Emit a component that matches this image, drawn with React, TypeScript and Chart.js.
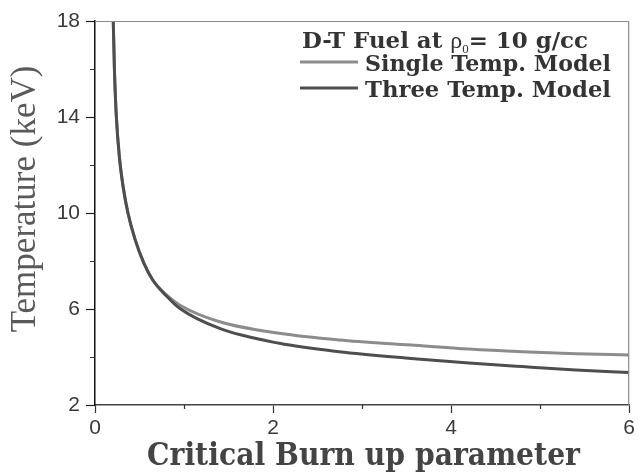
import React, { useEffect, useRef } from "react";
import { Chart, registerables } from "chart.js";

Chart.register(...registerables);

// Critical burn-up parameter (x) and temperature in keV (y)
const singleX = [0.2, 0.205, 0.218, 0.24, 0.275, 0.32, 0.37, 0.45, 0.55, 0.65, 0.8, 0.95, 1.4, 2.07, 2.74, 3.55, 4.2, 4.8, 5.4, 6.0];
const singleT = [19, 18, 16, 14, 12.3, 11, 10, 8.9, 7.9, 7.2, 6.6, 6.17, 5.47, 4.99, 4.71, 4.5, 4.33, 4.22, 4.14, 4.08];
const threeX = [0.2, 0.205, 0.218, 0.24, 0.275, 0.32, 0.37, 0.45, 0.55, 0.65, 0.8, 0.95, 1.4, 2.07, 2.74, 3.55, 4.2, 4.8, 5.4, 6.0];
const threeT = [19, 18, 16, 14, 12.3, 11, 10, 8.9, 7.9, 7.2, 6.55, 6.03, 5.19, 4.57, 4.22, 3.94, 3.75, 3.6, 3.46, 3.35];

const xMajorTicks = [0, 2, 4, 6];
const xMinorTicks = [1, 3, 5];
const yMajorTicks = [2, 6, 10, 14, 18];
const yMinorTicks = [4, 8, 12, 16];

const legendTitle = "D-T Fuel at ";
const legendRho = "ρ";
const legendSub = "0";
const legendTitleRest = "= 10 g/cc";
const singleLabel = "Single Temp. Model";
const threeLabel = "Three Temp. Model";
const xTitle = "Critical Burn up parameter";
const yTitle = "Temperature (keV)";

const SLAB = "'DejaVu Serif', serif";

function drawFitted(ctx: CanvasRenderingContext2D, text: string, x: number, y: number, target: number) {
  const w = ctx.measureText(text).width;
  const s = w > target ? target / w : 1;
  ctx.save();
  ctx.translate(x, y);
  ctx.scale(s, 1);
  ctx.fillText(text, 0, 0);
  ctx.restore();
}

const decorPlugin = {
  id: "decor",
  afterDraw(chart: any) {
    const ctx: CanvasRenderingContext2D = chart.ctx;
    const { left, right, top, bottom } = chart.chartArea;
    const xs = chart.scales.x;
    const ys = chart.scales.y;
    ctx.save();
    // top and right frame
    ctx.strokeStyle = "#8a8a8a";
    ctx.lineWidth = 1.2;
    ctx.beginPath();
    ctx.moveTo(left, top + 0.5);
    ctx.lineTo(right, top + 0.5);
    ctx.moveTo(right - 0.5, top);
    ctx.lineTo(right - 0.5, bottom);
    ctx.stroke();
    // minor ticks
    ctx.strokeStyle = "#333";
    ctx.lineWidth = 1.2;
    ctx.beginPath();
    for (const v of xMinorTicks) {
      const px = Math.round(xs.getPixelForValue(v)) + 0.5;
      ctx.moveTo(px, bottom);
      ctx.lineTo(px, bottom + 4);
    }
    for (const v of yMinorTicks) {
      const py = Math.round(ys.getPixelForValue(v)) + 0.5;
      ctx.moveTo(left, py);
      ctx.lineTo(left - 5, py);
    }
    ctx.stroke();

    // legend
    ctx.fillStyle = "#333";
    ctx.textBaseline = "alphabetic";
    ctx.textAlign = "left";
    const big = `bold 23px ${SLAB}`;
    const rho = "24px 'Liberation Serif', serif";
    const sub = "13px 'Liberation Serif', serif";
    ctx.font = big;
    const w1 = ctx.measureText(legendTitle).width;
    ctx.font = rho;
    const w2 = ctx.measureText(legendRho).width;
    ctx.font = sub;
    const w3 = ctx.measureText(legendSub).width;
    ctx.font = big;
    const w4 = ctx.measureText(legendTitleRest).width;
    const total = w1 + w2 + w3 + w4;
    const s = Math.min(1, 286 / total);
    ctx.save();
    ctx.translate(302, 48);
    ctx.scale(s, 1);
    ctx.font = big;
    ctx.fillText(legendTitle, 0, 0);
    ctx.font = rho;
    ctx.fillText(legendRho, w1, 0);
    ctx.font = sub;
    ctx.fillText(legendSub, w1 + w2, 5);
    ctx.font = big;
    ctx.fillText(legendTitleRest, w1 + w2 + w3, 0);
    ctx.restore();

    const ds = chart.data.datasets;
    const rows = [
      { y: 62, base: 71, ds: ds[0] },
      { y: 88, base: 97, ds: ds[1] },
    ];
    for (const r of rows) {
      ctx.strokeStyle = r.ds.borderColor;
      ctx.lineWidth = 3;
      ctx.beginPath();
      ctx.moveTo(300, r.y);
      ctx.lineTo(358, r.y);
      ctx.stroke();
      ctx.fillStyle = "#333";
      ctx.font = big;
      drawFitted(ctx, r.ds.label, 365, r.base, 246);
    }

    // axis titles
    ctx.fillStyle = "#444";
    ctx.font = `bold 32px ${SLAB}`;
    ctx.textAlign = "left";
    const tw = ctx.measureText(xTitle).width;
    const tt = Math.min(1, 433 / tw);
    ctx.save();
    ctx.translate(147, 465);
    ctx.scale(tt, 1);
    ctx.fillText(xTitle, 0, 0);
    ctx.restore();

    ctx.fillStyle = "#5a5a5a";
    ctx.font = "35px 'Liberation Serif', serif";
    ctx.textAlign = "center";
    ctx.save();
    ctx.translate(35, 199);
    ctx.rotate(-Math.PI / 2);
    ctx.fillText(yTitle, 0, 0);
    ctx.restore();
    ctx.restore();
  },
};

export default function App() {
  const ref = useRef<HTMLCanvasElement | null>(null);
  useEffect(() => {
    document.body.style.margin = "0";
    document.body.style.overflow = "hidden";
    const canvas = ref.current;
    if (!canvas) return;
    const tickFont = { family: "'Liberation Sans', Arial, sans-serif", size: 21 };
    const chart = new Chart(canvas, {
      type: "line",
      data: {
        datasets: [
          {
            label: singleLabel,
            data: singleX.map((x, i) => ({ x, y: singleT[i] })),
            borderColor: "#8c8c8c",
            borderWidth: 3,
            pointRadius: 0,
            cubicInterpolationMode: "monotone",
            fill: false,
            clip: 0,
            order: 2,
          },
          {
            label: threeLabel,
            data: threeX.map((x, i) => ({ x, y: threeT[i] })),
            borderColor: "#4e4e4e",
            borderWidth: 3,
            pointRadius: 0,
            cubicInterpolationMode: "monotone",
            fill: false,
            clip: 0,
            order: 1,
          },
        ],
      },
      options: {
        responsive: false,
        animation: false,
        devicePixelRatio: 1,
        layout: { padding: { top: 21, right: 6, left: 0, bottom: 0 } },
        plugins: { legend: { display: false }, tooltip: { enabled: false }, title: { display: false } },
        scales: {
          x: {
            type: "linear",
            min: 0,
            max: 6,
            afterBuildTicks: (s: any) => {
              s.ticks = xMajorTicks.map((v) => ({ value: v }));
            },
            afterFit: (s: any) => {
              s.height = 67;
            },
            ticks: { font: tickFont, color: "#3a3a3a", padding: 3, maxRotation: 0 },
            grid: { drawOnChartArea: false, drawTicks: true, tickLength: 8, tickColor: "#333", tickWidth: 1.2 },
            border: { display: true, color: "#444", width: 1.5 },
          },
          y: {
            type: "linear",
            min: 2,
            max: 18,
            afterBuildTicks: (s: any) => {
              s.ticks = yMajorTicks.map((v) => ({ value: v }));
            },
            afterFit: (s: any) => {
              s.width = 95;
            },
            ticks: { font: tickFont, color: "#3a3a3a", padding: 6 },
            grid: { drawOnChartArea: false, drawTicks: true, tickLength: 9, tickColor: "#222", tickWidth: 1.2 },
            border: { display: true, color: "#111", width: 1.5 },
          },
        },
      },
      plugins: [decorPlugin],
    } as any);
    return () => chart.destroy();
  }, []);
  return (
    <div style={{ width: 638, height: 472, background: "#fff" }}>
      <canvas ref={ref} width={638} height={472} style={{ display: "block" }} />
    </div>
  );
}
